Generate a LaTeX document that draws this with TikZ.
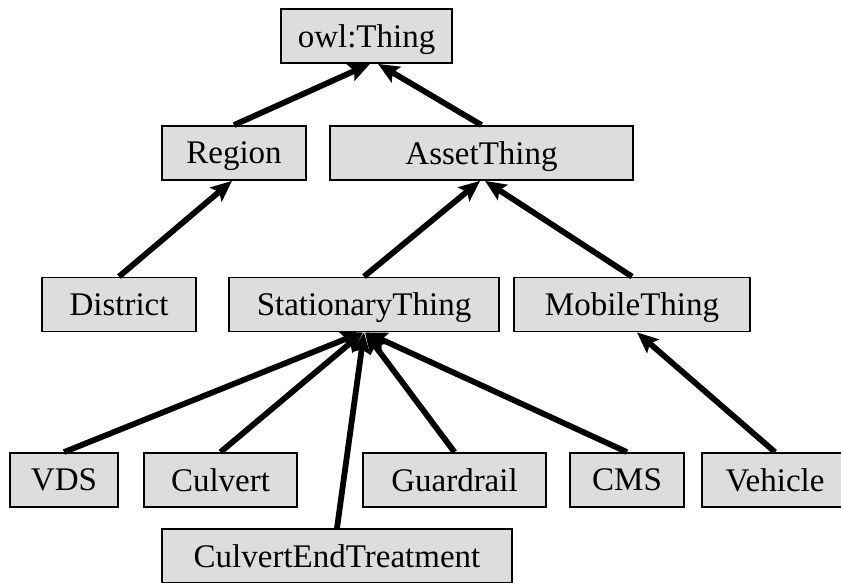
\documentclass[tikz,border=0pt]{standalone}
\usepackage{fontspec}
\setmainfont{Liberation Serif}
\usetikzlibrary{arrows.meta,calc}
\definecolor{boxgray}{HTML}{DDDDDD}
\tikzset{
  classbox/.style={draw=black, line width=1.8pt, fill=boxgray, minimum height=54pt,
    inner sep=0pt, font=\fontsize{33}{36}\selectfont, text depth=0pt},
  isa/.style={line width=5.8pt, -{Stealth[length=21pt,width=18pt,inset=4pt]}}
}
\begin{document}
\begin{tikzpicture}[x=1pt,y=-1pt]
\useasboundingbox (0,0) rectangle (841,583);
\clip (0,0) rectangle (841,583);
% class hierarchy boxes
\node[classbox, minimum width=171pt] (thing) at (366.5,36) {owl:Thing};
\node[classbox, minimum width=144pt] (region) at (234,153) {Region};
\node[classbox, minimum width=303pt] (asset) at (481.5,153) {AssetThing};
\node[classbox, minimum width=154pt] (district) at (119,304.5) {District};
\node[classbox, minimum width=270pt] (stationary) at (364,304.5) {StationaryThing};
\node[classbox, minimum width=236pt] (mobile) at (632,304.5) {MobileThing};
\node[classbox, minimum width=108pt] (vds) at (64,480) {VDS};
\node[classbox, minimum width=153pt] (culvert) at (220.5,480) {Culvert};
\node[classbox, minimum width=183pt] (guardrail) at (454.5,480) {Guardrail};
\node[classbox, minimum width=114pt] (cms) at (627,480) {CMS};
\node[classbox, minimum width=146pt] (vehicle) at (775,480) {Vehicle};
\node[classbox, minimum width=350pt] (cet) at (337,556) {CulvertEndTreatment};
% subclass links
\draw[isa] (region.north) -- ($(thing.south)+(3.5,0)$);
\draw[isa] (asset.north) -- ($(thing.south)+(11.5,0)$);
\draw[isa] (district.north) -- ($(region.south)+(-2,0)$);
\draw[isa] (stationary.north) -- ($(asset.south)+(-1.5,0)$);
\draw[isa] (mobile.north) -- ($(asset.south)+(3.5,0)$);
\draw[isa] (vehicle.north) -- ($(mobile.south)+(5,0)$);
\draw[isa] (vds.north) -- ($(stationary.south)+(-2,0)$);
\draw[isa] (culvert.north) -- ($(stationary.south)+(-1,0)$);
\draw[isa] (cet.north) -- ($(stationary.south)+(0,0)$);
\draw[isa] (guardrail.north) -- ($(stationary.south)+(1,0)$);
\draw[isa] (cms.north) -- ($(stationary.south)+(2,0)$);
\end{tikzpicture}
\end{document}
